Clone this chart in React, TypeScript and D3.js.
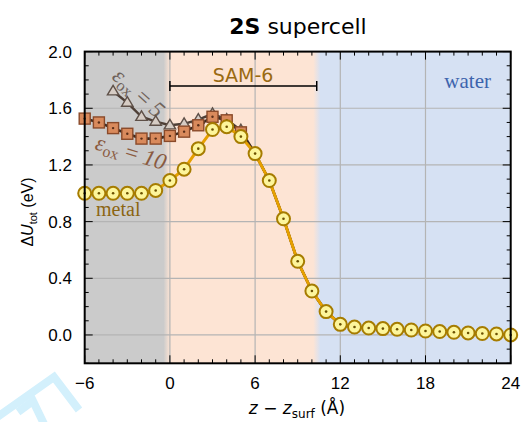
import React from "react";
import * as d3 from "d3";

// positions along z (Å)
const zAll = [-6, -5, -4, -3, -2, -1, 0, 1, 2, 3, 4, 5, 6, 7, 8, 9, 10, 11, 12, 13, 14, 15, 16, 17, 18, 19, 20, 21, 22, 23, 24];
// main curve (yellow circles)
const uMain = [1.0, 1.0, 1.0, 1.0, 1.0, 1.02, 1.09, 1.17, 1.315, 1.45, 1.47, 1.4, 1.28, 1.09, 0.82, 0.52, 0.31, 0.165, 0.075, 0.056, 0.049, 0.045, 0.04, 0.035, 0.028, 0.024, 0.019, 0.014, 0.01, 0.007, 0.0];

// eps_ox = 10 (squares)
const z10 = [-6, -5, -4, -3, -2, -1, 0, 1, 2, 3, 4, 5];
const u10 = [1.527, 1.5, 1.46, 1.42, 1.386, 1.386, 1.405, 1.435, 1.48, 1.54, 1.515, 1.43];

// eps_ox = 5 (triangles)
const z5 = [-4, -3, -2, -1, 0, 1, 2, 3, 4, 5];
const u5 = [1.72, 1.64, 1.54, 1.506, 1.48, 1.49, 1.52, 1.56, 1.52, 1.445];

const xTicks = [-6, 0, 6, 12, 18, 24];
const yTicks = [0.0, 0.4, 0.8, 1.2, 1.6, 2.0];

const W = 522;
const H = 422;
const L = 84.7, R = 510.7, T = 51.6, B = 363.3;

const x = d3.scaleLinear().domain([-6, 24]).range([L, R]);
const y = d3.scaleLinear().domain([-0.2, 2.0]).range([B, T]);

const fmtX = (v: number) => (v < 0 ? "\u2212" + Math.abs(v) : String(v));

export default function App() {
  const line = d3.line<[number, number]>().x(d => x(d[0])).y(d => y(d[1]));
  const mainPts: [number, number][] = zAll.map((z, i) => [z, uMain[i]]);
  // the oxide curves merge into the main one beyond z = 5
  const tail = mainPts.filter(p => p[0] > 5 && p[0] <= 12);
  const pts10: [number, number][] = z10.map((z, i) => [z, u10[i]]);
  const pts5: [number, number][] = z5.map((z, i) => [z, u5[i]]);

  const minorX = d3.range(-6, 24.01, 1);
  const minorY = d3.range(-0.2, 2.001, 0.1);
  const f0 = (x(-0.45) - L) / (R - L);
  const f1 = (x(0) - L) / (R - L);
  const f2 = (x(10.1) - L) / (R - L);
  const f3 = (x(10.6) - L) / (R - L);

  const tri = (cx: number, cy: number, s: number) =>
    `M${cx},${cy - s}L${cx + s * 0.95},${cy + s * 0.6}L${cx - s * 0.95},${cy + s * 0.6}Z`;

  return (
    <svg width={W} height={H} style={{ position: "absolute", left: 0, top: 0 }}>
      <defs>
        <linearGradient id="bg" x1="0" x2="1" y1="0" y2="0">
          <stop offset={f0} stopColor="#cbcbcb" />
          <stop offset={f1} stopColor="#fde4d4" />
          <stop offset={f2} stopColor="#fde4d4" />
          <stop offset={f3} stopColor="#d6e1f3" />
        </linearGradient>
      </defs>
      <rect x={0} y={0} width={W} height={H} fill="#fff" />
      {/* watermark */}
      <g fill="none" stroke="#d3f0fc" strokeWidth={8} strokeLinejoin="miter">
        <polyline points="-4,418 54,377 79,410" />
        <polyline points="18,412 33,401 44,424" />
      </g>
      <rect x={L} y={T} width={R - L} height={B - T} fill="url(#bg)" />

      {/* grid */}
      <g stroke="#b4b4b4" strokeWidth={1.2}>
        {xTicks.slice(1, -1).map(t => (
          <line key={"gx" + t} x1={x(t)} x2={x(t)} y1={T} y2={B} />
        ))}
        {yTicks.slice(0, -1).map(t => (
          <line key={"gy" + t} x1={L} x2={R} y1={y(t)} y2={y(t)} />
        ))}
      </g>

      {/* ticks */}
      <g stroke="#000" strokeWidth={1}>
        {minorX.map(t => {
          const major = xTicks.includes(t);
          const len = major ? 8 : 4;
          return (
            <g key={"tx" + t}>
              <line x1={x(t)} x2={x(t)} y1={B} y2={B - len} />
              <line x1={x(t)} x2={x(t)} y1={T} y2={T + len} />
            </g>
          );
        })}
        {minorY.map((t, i) => {
          const major = i % 4 === 2;
          const len = major ? 8 : 4;
          return (
            <g key={"ty" + i}>
              <line x1={L} x2={L + len} y1={y(t)} y2={y(t)} />
              <line x1={R} x2={R - len} y1={y(t)} y2={y(t)} />
            </g>
          );
        })}
      </g>

      {/* region labels */}
      <text x={x(-5.2)} y={216} fontFamily="Liberation Serif" fontSize={20} fill="#8b6512">metal</text>
      <text x={x(5.15)} y={82} fontFamily="DejaVu Sans" fontSize={19} fill="#9a6a12" textAnchor="middle">SAM-6</text>
      <text x={491} y={88} fontFamily="Liberation Serif" fontSize={21} fill="#3d64ad" textAnchor="end">water</text>
      <g stroke="#000" strokeWidth={1.5}>
        <line x1={x(0)} x2={x(10.34)} y1={86} y2={86} />
        <line x1={x(0)} x2={x(0)} y1={81} y2={91} />
        <line x1={x(10.34)} x2={x(10.34)} y1={81} y2={91} />
      </g>

      {/* eps labels */}
      <text transform="translate(111,78) rotate(42)" fontFamily="Liberation Serif" fontSize={23} fill="#6f625a">
        <tspan fontStyle="italic">ε</tspan>
        <tspan fontSize={16} dy={4}>ox</tspan>
        <tspan dy={-4}> = </tspan>
        <tspan fontStyle="italic">5</tspan>
      </text>
      <text transform="translate(94,149) rotate(17)" fontFamily="Liberation Serif" fontSize={23} fill="#8a5a3f">
        <tspan fontStyle="italic">ε</tspan>
        <tspan fontSize={16} dy={4}>ox</tspan>
        <tspan dy={-4}> = </tspan>
        <tspan fontStyle="italic">10</tspan>
      </text>

      {/* eps 5 */}
      <path d={line([...pts5, ...tail]) ?? ""} fill="none" stroke="#4e3f36" strokeWidth={2.5} />
      {pts5.map((p, i) => (
        <path key={"t" + i} d={tri(x(p[0]), y(p[1]), 6)} fill="#d6ccc4" stroke="#5e5048" strokeWidth={1.4} />
      ))}
      {/* eps 10 */}
      <path d={line([...pts10, ...tail]) ?? ""} fill="none" stroke="#3f2b20" strokeWidth={2.6} />
      {pts10.map((p, i) => (
        <g key={"s" + i}>
          <rect x={x(p[0]) - 5.5} y={y(p[1]) - 5.5} width={11} height={11} fill="#d98a5c" stroke="#8a4a2a" strokeWidth={1.4} />
          <circle cx={x(p[0])} cy={y(p[1])} r={1.2} fill="#5a2e18" />
        </g>
      ))}
      {/* main */}
      <path d={line(mainPts) ?? ""} fill="none" stroke="#e6a000" strokeWidth={3} />
      {mainPts.map((p, i) => (
        <g key={"c" + i}>
          <circle cx={x(p[0])} cy={y(p[1])} r={6.5} fill="#fdf59b" stroke="#a67c00" strokeWidth={2} />
          <circle cx={x(p[0])} cy={y(p[1])} r={1.3} fill="#6b5000" />
        </g>
      ))}

      {/* frame */}
      <rect x={L} y={T} width={R - L} height={B - T} fill="none" stroke="#000" strokeWidth={2} />

      {/* tick labels */}
      <g fontFamily="Liberation Sans" fontSize={17} fill="#000">
        {xTicks.map(t => (
          <text key={"lx" + t} x={x(t)} y={389} textAnchor="middle">{fmtX(t)}</text>
        ))}
        {yTicks.map(t => (
          <text key={"ly" + t} x={72} y={y(t)} dy="0.36em" textAnchor="end">{t.toFixed(1)}</text>
        ))}
      </g>

      {/* title */}
      <text x={298} y={34} textAnchor="middle" fontFamily="DejaVu Sans" fontSize={22} fill="#000">
        <tspan fontWeight="bold">2S</tspan> supercell
      </text>

      {/* axis labels */}
      <text x={297} y={414} textAnchor="middle" fontFamily="DejaVu Sans" fontSize={17} fill="#000">
        <tspan fontStyle="italic">z</tspan> − <tspan fontStyle="italic">z</tspan>
        <tspan fontSize={12} dy={4}>surf</tspan>
        <tspan dy={-4}> (Å)</tspan>
      </text>
      <text transform="translate(33,212) rotate(-90)" textAnchor="middle" fontFamily="Liberation Sans" fontSize={16} fill="#000">
        Δ<tspan fontStyle="italic">U</tspan>
        <tspan fontSize={11} dy={4}>tot</tspan>
        <tspan dy={-4}> (eV)</tspan>
      </text>
    </svg>
  );
}
